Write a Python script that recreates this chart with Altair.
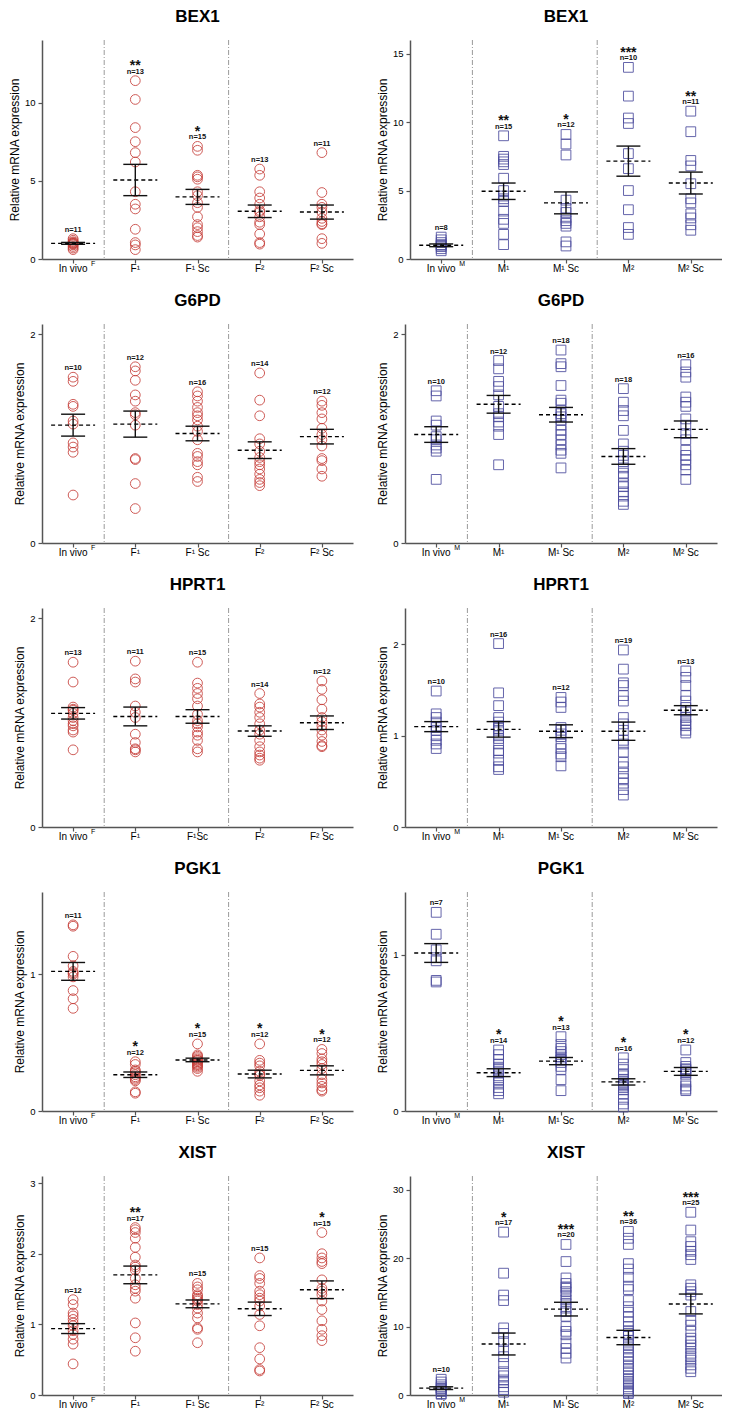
import altair as alt
import pandas as pd

FONT = "Liberation Sans"
RED = "#c73f3a"
BLUE = "#4b4b9d"

F_LABELS = ["In vivo", "F¹", "F¹ Sc", "F²", "F² Sc"]
F_LABELS_HPRT = ["In vivo", "F¹", "F¹Sc", "F²", "F² Sc"]
M_LABELS = ["In vivo", "M¹", "M¹ Sc", "M²", "M² Sc"]
SEPARATORS = [0.5, 2.5]

# ---------------- BEX1 ----------------
BEX1_F_VALUES = [
    [1.3, 1.2, 1.1, 1.05, 1.0, 1.0, 0.95, 0.9, 0.8, 0.7, 0.6],
    [11.4, 10.2, 8.4, 7.5, 6.8, 6.2, 4.3, 3.5, 3.2, 1.9, 1.05, 0.9, 0.6],
    [7.2, 6.95, 5.35, 5.25, 5.1, 4.3, 4.05, 3.6, 3.3, 2.7, 2.2, 2.0, 1.75, 1.5, 1.4],
    [5.75, 5.35, 4.3, 3.9, 3.5, 3.1, 3.0, 2.7, 2.35, 2.2, 1.6, 1.05, 0.95],
    [6.8, 4.25, 3.5, 3.3, 3.0, 2.6, 2.4, 2.25, 2.2, 1.3, 1.0],
]
BEX1_F_MEAN = [1.0, 5.05, 3.97, 3.05, 3.0]
BEX1_F_SEM = [0.06, 1.0, 0.48, 0.4, 0.45]
BEX1_F_STARS = ["", "**", "*", "", ""]

BEX1_M_VALUES = [
    [1.6, 1.4, 1.2, 1.05, 1.0, 0.9, 0.75, 0.6],
    [9.0, 7.5, 7.3, 7.1, 6.9, 5.9, 5.0, 4.6, 4.4, 4.2, 3.5, 2.9, 2.6, 1.8, 1.05],
    [9.1, 8.4, 7.6, 4.3, 3.7, 3.4, 3.0, 2.8, 2.6, 2.4, 1.25, 0.95],
    [14.0, 11.9, 10.3, 9.9, 7.7, 6.6, 5.0, 3.6, 2.3, 1.8],
    [10.8, 9.3, 7.2, 6.8, 5.5, 4.4, 4.1, 3.3, 3.0, 2.5, 2.1],
]
BEX1_M_MEAN = [1.0, 4.95, 4.1, 7.15, 5.55]
BEX1_M_SEM = [0.1, 0.6, 0.8, 1.1, 0.8]
BEX1_M_STARS = ["", "**", "*", "***", "**"]

# ---------------- G6PD ----------------
G6PD_F_VALUES = [
    [1.59, 1.55, 1.33, 1.31, 1.17, 1.14, 0.96, 0.92, 0.87, 0.46],
    [1.69, 1.65, 1.56, 1.42, 1.36, 1.25, 1.23, 1.13, 0.81, 0.80, 0.57, 0.33],
    [1.45, 1.41, 1.36, 1.30, 1.25, 1.22, 1.18, 1.12, 1.07, 0.99, 0.86, 0.83, 0.78, 0.75, 0.63, 0.59],
    [1.63, 1.37, 1.22, 1.0, 0.95, 0.88, 0.82, 0.78, 0.75, 0.71, 0.66, 0.61, 0.58, 0.55],
    [1.36, 1.32, 1.25, 1.19, 1.10, 1.04, 0.99, 0.93, 0.81, 0.79, 0.71, 0.64],
]
G6PD_F_MEAN = [1.13, 1.14, 1.05, 0.89, 1.02]
G6PD_F_SEM = [0.105, 0.125, 0.07, 0.08, 0.07]
G6PD_F_STARS = ["", "", "", "", ""]

G6PD_M_VALUES = [
    [1.46, 1.41, 1.17, 1.13, 1.02, 0.99, 0.94, 0.91, 0.88, 0.61],
    [1.75, 1.67, 1.55, 1.50, 1.42, 1.31, 1.24, 1.21, 1.16, 1.12, 1.04, 0.75],
    [1.85, 1.72, 1.69, 1.51, 1.37, 1.34, 1.27, 1.24, 1.21, 1.18, 1.13, 1.08, 1.04, 0.99, 0.94, 0.89, 0.86, 0.72],
    [1.48, 1.35, 1.27, 1.22, 1.08, 0.95, 0.88, 0.84, 0.78, 0.72, 0.67, 0.64, 0.57, 0.54, 0.49, 0.45, 0.40, 0.37],
    [1.71, 1.64, 1.59, 1.40, 1.35, 1.31, 1.19, 1.13, 1.05, 0.99, 0.89, 0.84, 0.80, 0.75, 0.70, 0.61],
]
G6PD_M_MEAN = [1.04, 1.33, 1.23, 0.83, 1.09]
G6PD_M_SEM = [0.075, 0.085, 0.07, 0.075, 0.08]
G6PD_M_STARS = ["", "", "", "", ""]

# ---------------- HPRT1 ----------------
HPRT1_F_VALUES = [
    [1.58, 1.39, 1.15, 1.13, 1.12, 1.09, 1.05, 1.02, 0.99, 0.97, 0.93, 0.91, 0.74],
    [1.59, 1.42, 1.39, 1.16, 1.10, 1.05, 0.89, 0.81, 0.75, 0.74, 0.72],
    [1.58, 1.38, 1.33, 1.28, 1.23, 1.16, 1.08, 1.02, 0.99, 0.96, 0.91, 0.88, 0.83, 0.75, 0.72],
    [1.28, 1.18, 1.15, 1.10, 1.05, 0.99, 0.93, 0.89, 0.83, 0.77, 0.72, 0.69, 0.66, 0.64],
    [1.40, 1.32, 1.22, 1.13, 1.05, 1.01, 0.97, 0.93, 0.88, 0.82, 0.78, 0.77],
]
HPRT1_F_MEAN = [1.09, 1.06, 1.06, 0.92, 1.00]
HPRT1_F_SEM = [0.055, 0.09, 0.065, 0.05, 0.065]
HPRT1_F_STARS = ["", "", "", "", ""]

HPRT1_M_VALUES = [
    [1.49, 1.24, 1.20, 1.15, 1.09, 1.06, 1.0, 0.95, 0.91, 0.86],
    [2.01, 1.47, 1.33, 1.20, 1.15, 1.11, 1.08, 1.06, 1.0, 0.97, 0.91, 0.84, 0.81, 0.73, 0.66, 0.63],
    [1.42, 1.37, 1.31, 1.09, 1.06, 1.02, 0.99, 0.91, 0.86, 0.80, 0.77, 0.67],
    [1.94, 1.73, 1.58, 1.55, 1.44, 1.38, 1.20, 1.13, 1.06, 0.95, 0.91, 0.82, 0.71, 0.66, 0.59, 0.53, 0.48, 0.41, 0.35],
    [1.71, 1.64, 1.55, 1.44, 1.38, 1.31, 1.26, 1.20, 1.17, 1.13, 1.11, 1.06, 1.03],
]
HPRT1_M_MEAN = [1.10, 1.07, 1.05, 1.05, 1.28]
HPRT1_M_SEM = [0.055, 0.085, 0.07, 0.10, 0.05]
HPRT1_M_STARS = ["", "", "", "", ""]

# ---------------- PGK1 ----------------
PGK1_F_VALUES = [
    [1.36, 1.35, 1.13, 1.06, 1.02, 1.01, 1.0, 0.98, 0.88, 0.82, 0.75],
    [0.36, 0.34, 0.30, 0.29, 0.28, 0.265, 0.25, 0.24, 0.23, 0.22, 0.14, 0.13],
    [0.49, 0.41, 0.40, 0.39, 0.38, 0.37, 0.37, 0.36, 0.35, 0.34, 0.34, 0.33, 0.32, 0.31, 0.29],
    [0.49, 0.37, 0.35, 0.33, 0.29, 0.27, 0.26, 0.22, 0.19, 0.17, 0.145, 0.115],
    [0.45, 0.42, 0.38, 0.36, 0.34, 0.31, 0.265, 0.23, 0.205, 0.18, 0.155, 0.145],
]
PGK1_F_MEAN = [1.02, 0.265, 0.373, 0.27, 0.297]
PGK1_F_SEM = [0.065, 0.02, 0.013, 0.028, 0.033]
PGK1_F_STARS = ["", "*", "*", "*", "*"]

PGK1_M_VALUES = [
    [1.27, 1.13, 1.03, 0.98, 0.96, 0.835, 0.825],
    [0.39, 0.36, 0.33, 0.30, 0.28, 0.27, 0.255, 0.245, 0.225, 0.20, 0.18, 0.15, 0.13, 0.11],
    [0.475, 0.425, 0.40, 0.38, 0.36, 0.345, 0.33, 0.325, 0.31, 0.285, 0.265, 0.20, 0.13],
    [0.34, 0.30, 0.265, 0.235, 0.225, 0.20, 0.19, 0.18, 0.17, 0.16, 0.15, 0.135, 0.11, 0.075, 0.045, 0.025],
    [0.39, 0.31, 0.285, 0.27, 0.265, 0.255, 0.245, 0.235, 0.185, 0.16, 0.14, 0.13],
]
PGK1_M_MEAN = [1.01, 0.245, 0.319, 0.186, 0.253]
PGK1_M_SEM = [0.06, 0.025, 0.023, 0.02, 0.025]
PGK1_M_STARS = ["", "*", "*", "*", "*"]

# ---------------- XIST ----------------
XIST_F_VALUES = [
    [1.35, 1.28, 1.16, 1.12, 1.07, 1.02, 0.98, 0.91, 0.86, 0.79, 0.72, 0.44],
    [2.37, 2.34, 2.30, 2.22, 2.09, 1.95, 1.84, 1.81, 1.77, 1.65, 1.56, 1.51, 1.47, 1.37, 1.02, 0.81, 0.62],
    [1.58, 1.53, 1.49, 1.42, 1.40, 1.37, 1.35, 1.33, 1.28, 1.23, 1.16, 1.09, 0.95, 0.93, 0.74],
    [1.94, 1.69, 1.65, 1.58, 1.47, 1.42, 1.37, 1.33, 1.26, 1.14, 0.98, 0.67, 0.51, 0.36, 0.34],
    [2.30, 2.0, 1.94, 1.89, 1.86, 1.63, 1.51, 1.47, 1.42, 1.33, 1.21, 1.05, 0.93, 0.84, 0.77],
]
XIST_F_MEAN = [0.94, 1.70, 1.29, 1.22, 1.49]
XIST_F_SEM = [0.07, 0.125, 0.055, 0.095, 0.125]
XIST_F_STARS = ["", "**", "", "", "*"]

XIST_M_VALUES = [
    [2.3, 1.9, 1.5, 1.2, 1.0, 0.9, 0.7, 0.5, 0.2, 0.1],
    [23.8, 17.8, 14.6, 13.8, 9.8, 9.0, 7.8, 6.6, 5.6, 4.6, 3.4, 2.8, 2.2, 1.8, 1.2, 0.8, 0.4],
    [22.0, 19.5, 17.1, 16.3, 15.8, 15.6, 15.1, 14.6, 13.9, 13.4, 12.7, 12.2, 11.5, 10.0, 9.3, 8.8, 7.6, 6.8, 6.1, 5.4],
    [23.9, 22.9, 22.0, 19.2, 18.4, 17.2, 15.9, 15.4, 13.8, 12.9, 12.1, 11.4, 10.7, 10.0, 9.4, 9.0, 8.6, 8.0,
     7.4, 6.9, 6.3, 5.8, 5.3, 4.8, 4.2, 3.7, 3.2, 2.8, 2.4, 2.0, 1.6, 1.2, 0.9, 0.6, 0.4, 0.2],
    [26.7, 24.1, 22.4, 21.7, 21.0, 20.5, 19.8, 16.1, 15.6, 15.1, 14.6, 12.2, 10.9, 10.2, 9.3, 8.3, 7.8, 7.3,
     6.8, 6.1, 5.6, 5.1, 4.4, 3.9, 3.4],
]
XIST_M_MEAN = [1.0, 7.45, 12.55, 8.4, 13.3]
XIST_M_SEM = [0.2, 1.6, 1.0, 1.05, 1.45]
XIST_M_STARS = ["", "*", "***", "**", "***"]

LEFT_W = 311
RIGHT_W = 312
H = 219


def panel(title, values, means, sems, stars, labels, sup, ydomain, yticks, shape, color, width):
    idx = list(range(len(values)))
    pts = pd.DataFrame([{"g": i, "v": v} for i, vals in zip(idx, values) for v in vals])
    summ = pd.DataFrame({
        "g": idx,
        "mean": means,
        "lo": [m - s for m, s in zip(means, sems)],
        "hi": [m + s for m, s in zip(means, sems)],
        "top": [max(v) for v in values],
        "n": ["n=%d" % len(v) for v in values],
        "star": stars,
        "label": labels,
    })
    seps = pd.DataFrame({"g": SEPARATORS})
    supdf = pd.DataFrame({"g": [0], "sup": [sup]})
    titledf = pd.DataFrame({"t": [title]})

    xs = alt.Scale(domain=[-0.5, 4.5], nice=False, zero=False)
    ys = alt.Scale(domain=ydomain, nice=False, zero=False)
    xax = alt.Axis(values=idx, labels=False, title=None, grid=False, ticks=True,
                   tickSize=4, domain=True)
    yax = alt.Axis(values=yticks, format="d", title="Relative mRNA expression", grid=False,
                   tickSize=4, labelPadding=3, titlePadding=3)

    def xq():
        return alt.X("g:Q", scale=xs, axis=xax)

    def yq(field):
        return alt.Y(field, type="quantitative", scale=ys, axis=yax)

    sep = alt.Chart(seps).mark_rule(color="#9a9a9a", strokeWidth=1, strokeDash=[5, 2, 1, 2]).encode(
        x=xq(), y=alt.value(0), y2=alt.value(H))

    points = alt.Chart(pts).mark_point(shape=shape, filled=False, size=95, strokeWidth=1,
                                       color=color, opacity=0.85).encode(
        x=xq(), y=yq("v"))

    mean_line = alt.Chart(summ).mark_rule(color="black", strokeWidth=1.4, strokeDash=[4, 3],
                                          xOffset=-22, x2Offset=22).encode(
        x=xq(), x2="g:Q", y=yq("mean"))
    err = alt.Chart(summ).mark_rule(color="#111111", strokeWidth=1.4).encode(
        x=xq(), y=yq("lo"), y2="hi:Q")
    cap_hi = alt.Chart(summ).mark_rule(color="#111111", strokeWidth=1.4,
                                       xOffset=-12, x2Offset=12).encode(
        x=xq(), x2="g:Q", y=yq("hi"))
    cap_lo = alt.Chart(summ).mark_rule(color="#111111", strokeWidth=1.4,
                                       xOffset=-12, x2Offset=12).encode(
        x=xq(), x2="g:Q", y=yq("lo"))

    nlab = alt.Chart(summ).mark_text(font=FONT, fontSize=7.5, fontWeight="bold", color="#111",
                                     baseline="middle", dy=-9).encode(
        x=xq(), y=yq("top"), text="n:N")
    starlab = alt.Chart(summ).mark_text(font=FONT, fontSize=14, fontWeight="bold", color="#111",
                                        baseline="alphabetic", dy=-10.5).encode(
        x=xq(), y=yq("top"), text="star:N")

    xlab = alt.Chart(summ).mark_text(font=FONT, fontSize=10, color="black", baseline="middle").encode(
        x=xq(), y=alt.value(H + 10), text="label:N")
    suplab = alt.Chart(supdf).mark_text(font=FONT, fontSize=7, color="black", baseline="middle",
                                        align="left", dx=18).encode(
        x=xq(), y=alt.value(H + 5), text="sup:N")

    titlemark = alt.Chart(titledf).mark_text(font=FONT, fontSize=17, fontWeight="bold", color="black",
                                             baseline="alphabetic", align="center").encode(
        x=alt.value(width / 2), y=alt.value(-18), text="t:N")

    return alt.layer(sep, points, mean_line, err, cap_hi, cap_lo, nlab, starlab, xlab, suplab,
                     titlemark).properties(width=width, height=H)


rows = [
    (panel("BEX1", BEX1_F_VALUES, BEX1_F_MEAN, BEX1_F_SEM, BEX1_F_STARS, F_LABELS, "F",
           [0, 14], [0, 5, 10], "circle", RED, LEFT_W),
     panel("BEX1", BEX1_M_VALUES, BEX1_M_MEAN, BEX1_M_SEM, BEX1_M_STARS, M_LABELS, "M",
           [0, 16], [0, 5, 10, 15], "square", BLUE, RIGHT_W)),
    (panel("G6PD", G6PD_F_VALUES, G6PD_F_MEAN, G6PD_F_SEM, G6PD_F_STARS, F_LABELS, "F",
           [0, 2.1], [0, 1, 2], "circle", RED, LEFT_W),
     panel("G6PD", G6PD_M_VALUES, G6PD_M_MEAN, G6PD_M_SEM, G6PD_M_STARS, M_LABELS, "M",
           [0, 2.1], [0, 1, 2], "square", BLUE, RIGHT_W)),
    (panel("HPRT1", HPRT1_F_VALUES, HPRT1_F_MEAN, HPRT1_F_SEM, HPRT1_F_STARS, F_LABELS_HPRT, "F",
           [0, 2.1], [0, 1, 2], "circle", RED, LEFT_W),
     panel("HPRT1", HPRT1_M_VALUES, HPRT1_M_MEAN, HPRT1_M_SEM, HPRT1_M_STARS, M_LABELS, "M",
           [0, 2.4], [0, 1, 2], "square", BLUE, RIGHT_W)),
    (panel("PGK1", PGK1_F_VALUES, PGK1_F_MEAN, PGK1_F_SEM, PGK1_F_STARS, F_LABELS, "F",
           [0, 1.6], [0, 1], "circle", RED, LEFT_W),
     panel("PGK1", PGK1_M_VALUES, PGK1_M_MEAN, PGK1_M_SEM, PGK1_M_STARS, M_LABELS, "M",
           [0, 1.4], [0, 1], "square", BLUE, RIGHT_W)),
    (panel("XIST", XIST_F_VALUES, XIST_F_MEAN, XIST_F_SEM, XIST_F_STARS, F_LABELS, "F",
           [0, 3.1], [0, 1, 2, 3], "circle", RED, LEFT_W),
     panel("XIST", XIST_M_VALUES, XIST_M_MEAN, XIST_M_SEM, XIST_M_STARS, M_LABELS, "M",
           [0, 32], [0, 10, 20, 30], "square", BLUE, RIGHT_W)),
]

chart = alt.vconcat(
    *[alt.hconcat(l, r, spacing=23) for l, r in rows], spacing=18
).properties(
    padding=0
).configure_view(
    stroke=None
).configure_axis(
    domainColor="#555555", domainWidth=1.5, tickColor="#555555", tickWidth=1.2,
    labelFont=FONT, labelFontSize=9.5, labelColor="black",
    titleFont=FONT, titleFontSize=12, titleFontWeight="normal", titleColor="black",
)

chart.save("out.html", embed_options={"renderer": "svg", "actions": False})
